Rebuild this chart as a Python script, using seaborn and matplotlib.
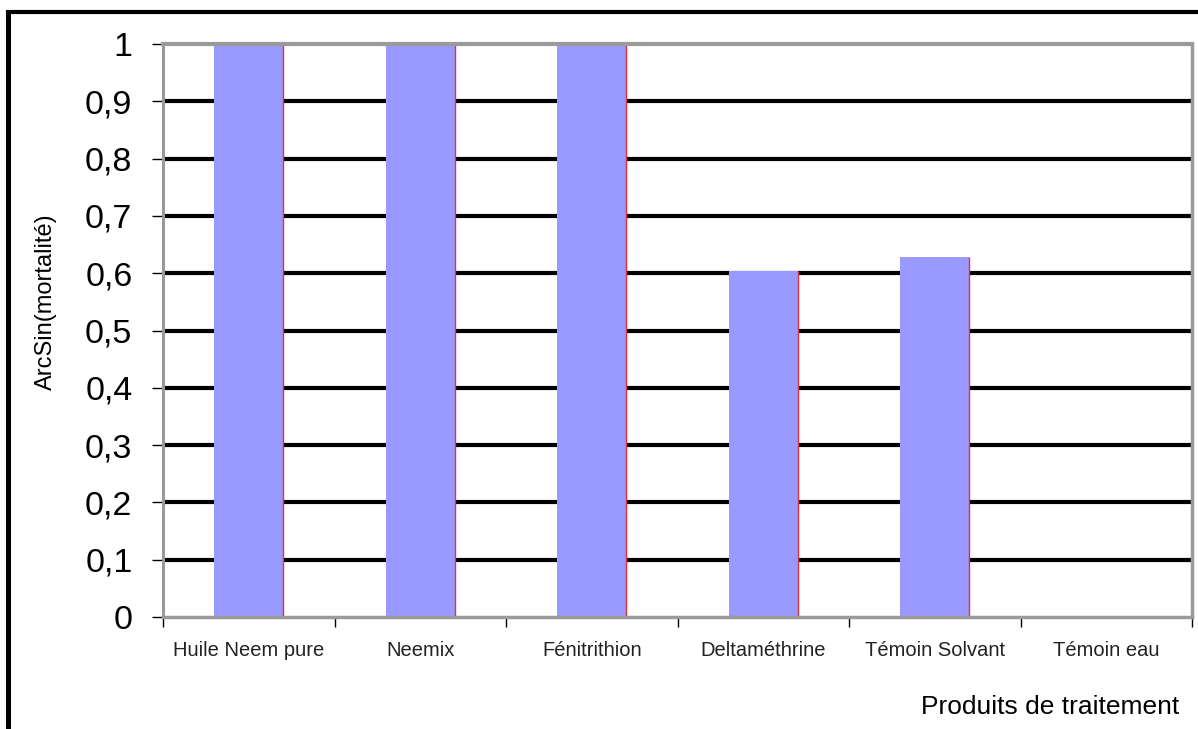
import matplotlib
matplotlib.use("Agg")
import matplotlib.pyplot as plt
from matplotlib.lines import Line2D
import seaborn as sns
import numpy as np

categories = ["Huile Neem pure", "Neemix", "Fénitrithion", "Deltaméthrine",
              "Témoin Solvant", "Témoin eau"]
values = [1.0, 1.0, 1.0, 0.604, 0.628, 0.0]
ytick_values = [0, 0.1, 0.2, 0.3, 0.4, 0.5, 0.6, 0.7, 0.8, 0.9, 1.0]
ytick_labels = ["0", "0,1", "0,2", "0,3", "0,4", "0,5", "0,6", "0,7", "0,8", "0,9", "1"]

sns.set_style("white")
plt.rcParams["font.family"] = ["Liberation Sans", "DejaVu Sans"]

fig = plt.figure(figsize=(11.98, 7.29), dpi=100)
ax = fig.add_axes([163 / 1198, 1 - 617 / 729, (1192 - 163) / 1198, (617 - 44) / 729])

sns.barplot(x=categories, y=values, color="#9999FF", saturation=1, width=0.4,
            linewidth=0, edgecolor="none", ax=ax, zorder=2)

# red right edge on each bar
for p in list(ax.patches):
    h = p.get_height()
    if h > 0:
        xr = p.get_x() + p.get_width()
        ax.plot([xr, xr], [0, h], color="#e0303a", lw=1.0, zorder=3,
                solid_capstyle="butt")

ax.set_xlim(-0.5, len(categories) - 0.5)
ax.set_ylim(0, 1)
ax.set_yticks(ytick_values)
ax.set_yticklabels(ytick_labels, fontsize=24.5, color="black")
ax.tick_params(axis="y", direction="out", length=8, width=1, color="black",
               pad=14, left=True)

ax.set_xticks(range(len(categories)))
ax.set_xticklabels(categories, fontsize=14.5, color="#222222")
ax.tick_params(axis="x", which="major", length=0, pad=17)
ax.set_xticks(np.arange(-0.5, len(categories), 1.0), minor=True)
ax.tick_params(axis="x", which="minor", direction="out", length=7, width=1,
               color="black", bottom=True)

# grid
ax.set_axisbelow(True)
ax.yaxis.grid(True, color="black", linewidth=3)
ax.xaxis.grid(False)
gl = ax.yaxis.get_gridlines()
gl[0].set_visible(False)
gl[-1].set_visible(False)

for side, lw in [("left", 2.2), ("right", 2.5), ("top", 3.0), ("bottom", 2.5)]:
    ax.spines[side].set_visible(True)
    ax.spines[side].set_color("#9a9a9a")
    ax.spines[side].set_linewidth(lw)
    ax.spines[side].set_zorder(4)

ax.set_ylabel("ArcSin(mortalité)", fontsize=17, color="black")
ax.yaxis.set_label_coords(-0.103, 0.55)
ax.set_xlabel("Produits de traitement", fontsize=19, color="black")
ax.xaxis.set_label_coords(0.862, -0.136)

# figure border (left and top)
fig.add_artist(Line2D([7.5 / 1198, 7.5 / 1198], [0, 1 - 12 / 729],
                      transform=fig.transFigure, color="black", lw=3.6,
                      solid_capstyle="projecting"))
fig.add_artist(Line2D([7.5 / 1198, 1.0], [1 - 12 / 729, 1 - 12 / 729],
                      transform=fig.transFigure, color="black", lw=3.0,
                      solid_capstyle="projecting"))

fig.savefig("out.png", dpi=100)
